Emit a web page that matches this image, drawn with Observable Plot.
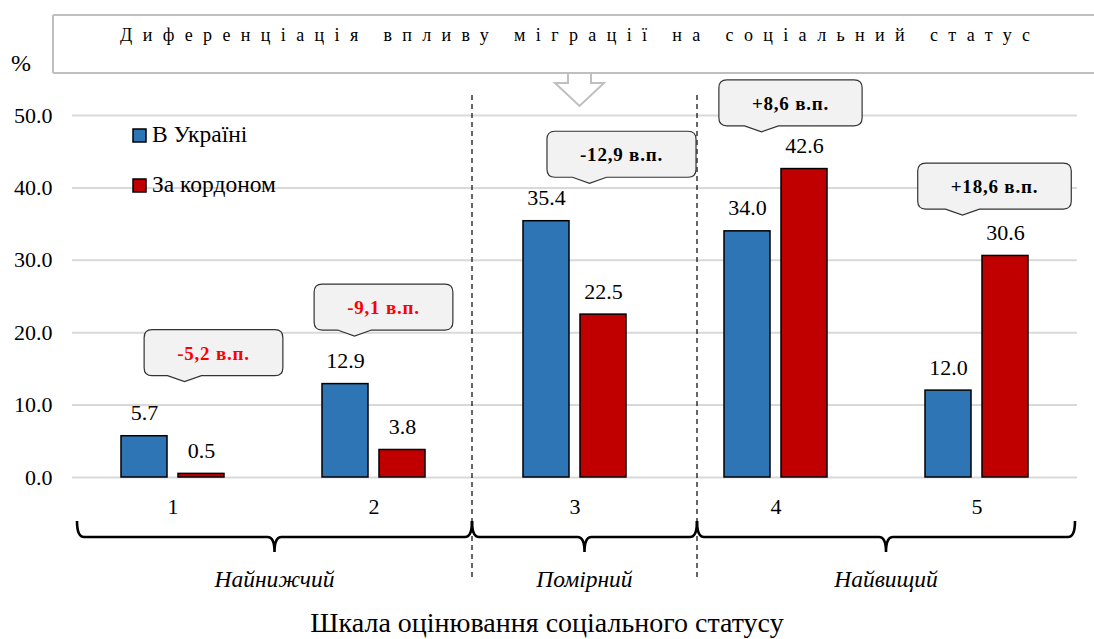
<!DOCTYPE html>
<html><head><meta charset="utf-8">
<script src="https://cdn.jsdelivr.net/npm/d3@7"></script>
<script src="https://cdn.jsdelivr.net/npm/@observablehq/plot@0.6"></script>
<style>
html,body{margin:0;padding:0;background:#fff;}
#chart{width:1094px;height:639px;overflow:hidden;}
#chart svg, #chart svg text{font-family:"Liberation Serif","Times New Roman",serif;}
</style></head><body><div id="chart"></div>
<script>
// ---------- data ----------
const categories = ["1","2","3","4","5"];
const seriesNames = ["В Україні","За кордоном"];
const ukraine = [5.7, 12.9, 35.4, 34.0, 12.0];
const abroad  = [0.5, 3.8, 22.5, 42.6, 30.6];
const diffLabels = ["-5,2 в.п.","-9,1 в.п.","-12,9 в.п.","+8,6 в.п.","+18,6 в.п."];
const groupNames = ["Найнижчий","Помірний","Найвищий"];
const groupMembers = [["1","2"],["3"],["4","5"]];
const yTicks = [0,10,20,30,40,50];
const titleText = "Диференціація впливу міграції на соціальний статус";
const xTitle = "Шкала оцінювання соціального статусу";
const yLabel = "%";

// ---------- style / layout ----------
const W=1094, H=639, mL=72, mR=17, mT=115, mB=162;
const BLUE="#2e75b6", RED="#c00000";
const FONT="Liberation Serif";
const barW=46, barGap=11;
const bw=(W-mL-mR)/categories.length;
const off=(barW+barGap)/2;
const inNear = bw/2 - off - barW/2;
const inFar  = bw/2 + off - barW/2;
const calloutColor = ["#ff0000","#ff0000","#000","#000","#000"];
const calloutDx = [41, 10, 47, 15, 18];        // px from group centre
const calloutTipDx = [12, -19, 15, -14, -14];   // px from group centre
const calloutLift = [8.3, 7.4, 6.0, 5.9, 6.4];  // y-units above tallest bar
const sepNudge = [-2, 22];

const rowsUA = categories.map((c,i)=>({cat:c, series:seriesNames[0], v:ukraine[i]}));
const rowsAB = categories.map((c,i)=>({cat:c, series:seriesNames[1], v:abroad[i]}));

const plot = Plot.plot({
  width:W, height:H, marginLeft:mL, marginRight:mR, marginTop:mT, marginBottom:mB,
  style:"font-family:'Liberation Serif',serif;font-size:22px;color:#000;background:#fff;overflow:visible;",
  x:{type:"band", domain:categories, padding:0, label:null},
  y:{domain:[0,50], label:null},
  marks:[
    Plot.gridY(yTicks,{stroke:"#d9d9d9", strokeOpacity:1, strokeWidth:2}),
    Plot.axisY(yTicks,{tickSize:0, tickPadding:20, tickFormat:d=>d.toFixed(1), label:null, fontSize:22, fontFamily:FONT}),
    Plot.axisX({tickSize:0, tickPadding:21, label:null, fontSize:22, fontFamily:FONT}),
    Plot.barY(rowsUA,{x:"cat", y:"v", fill:BLUE, stroke:"#000", strokeWidth:1.5, insetLeft:inNear, insetRight:inFar}),
    Plot.barY(rowsAB,{x:"cat", y:"v", fill:RED, stroke:"#000", strokeWidth:1.5, insetLeft:inFar, insetRight:inNear}),
    Plot.text(rowsUA,{x:"cat", y:"v", text:d=>d.v.toFixed(1), dx:-off, dy:-16, lineAnchor:"bottom", fontSize:22, fontFamily:FONT}),
    Plot.text(rowsAB,{x:"cat", y:"v", text:d=>d.v.toFixed(1), dx:off, dy:-16, lineAnchor:"bottom", fontSize:22, fontFamily:FONT})
  ]
});
document.getElementById("chart").appendChild(plot);

// ---------- decorations drawn through the plot's scales ----------
const xs = plot.scale("x"), ys = plot.scale("y");
const cx = c => xs.apply(c) + xs.bandwidth/2;
const svg = d3.select(plot);
const deco = svg.append("g").attr("font-family", FONT).attr("text-anchor","start");

// title callout box with down arrow
deco.append("path")
  .attr("d","M53,15 H1110 M1110,73 H591 V83 H604 L579.5,106 L555,83 H568 V73 H53 Z")
  .attr("fill","#fff").attr("stroke","#bfbfbf").attr("stroke-width",2);
deco.append("path").attr("d","M53,15 V73").attr("stroke","#bfbfbf").attr("stroke-width",2);
deco.append("text").attr("x",120).attr("y",41).attr("font-size",18).attr("text-anchor","start")
  .attr("textLength",910).attr("lengthAdjust","spacing").text(titleText);

// y label
deco.append("text").attr("x",11).attr("y",71).attr("font-size",24).attr("text-anchor","start").text(yLabel);

// legend
[[seriesNames[0],BLUE,129],[seriesNames[1],RED,179]].forEach(([t,c,yy])=>{
  deco.append("rect").attr("x",133).attr("y",yy).attr("width",13).attr("height",13)
    .attr("fill",c).attr("stroke","#000").attr("stroke-width",1.5);
  deco.append("text").attr("x",152).attr("y",yy+13).attr("font-size",23.5).attr("text-anchor","start").text(t);
});

// separators
const sepX = [xs.apply("3")+sepNudge[0], xs.apply("4")+sepNudge[1]];
sepX.forEach(sx=>{
  deco.append("line").attr("x1",sx).attr("x2",sx).attr("y1",95).attr("y2",578)
    .attr("stroke","#000").attr("stroke-width",1.2).attr("stroke-dasharray","5,4");
});

// braces
const braceBounds = [mL+5, sepX[0], sepX[1], W-mR-2];
const yt=521, yh=537, yc=552;
groupNames.forEach((g,i)=>{
  const xa=braceBounds[i], xb=braceBounds[i+1], xm=(xa+xb)/2;
  const p = `M${xa},${yt} Q${xa},${yh} ${xa+7},${yh} L${xm-7},${yh} Q${xm},${yh} ${xm},${yc} Q${xm},${yh} ${xm+7},${yh} L${xb-7},${yh} Q${xb},${yh} ${xb},${yt}`;
  deco.append("path").attr("d",p).attr("fill","none").attr("stroke","#000").attr("stroke-width",2.6);
  deco.append("text").attr("x",xm).attr("y",587).attr("text-anchor","middle")
    .attr("font-size",23.5).attr("font-style","italic").text(g);
});

// x title
deco.append("text").attr("x",W/2).attr("y",632).attr("text-anchor","middle").attr("font-size",28).text(xTitle);

// difference callouts
categories.forEach((c,i)=>{
  const gc = cx(c);
  const bx = gc + calloutDx[i];
  const bottom = ys.apply(Math.max(ukraine[i],abroad[i]) + calloutLift[i]);
  const h=46, r=8, top=bottom-h, tip=gc+calloutTipDx[i];
  const g = deco.append("g");
  const path = g.append("path");
  const t = g.append("text").attr("x",bx).attr("y",top+h/2+7).attr("text-anchor","middle")
    .attr("font-size",19).attr("font-weight","bold").attr("letter-spacing",0.8)
    .attr("fill",calloutColor[i]).text(diffLabels[i]);
  const tw = t.node().getComputedTextLength();
  const w = tw + 66, l=bx-w/2, rr=bx+w/2;
  path.attr("d",`M${l+r},${top} H${rr-r} Q${rr},${top} ${rr},${top+r} V${bottom-r} Q${rr},${bottom} ${rr-r},${bottom} H${tip+17} L${tip},${bottom+6} L${tip-17},${bottom} H${l+r} Q${l},${bottom} ${l},${bottom-r} V${top+r} Q${l},${top} ${l+r},${top} Z`)
    .attr("fill","#f2f2f2").attr("stroke","#333").attr("stroke-width",1.2);
});
</script></body></html>
